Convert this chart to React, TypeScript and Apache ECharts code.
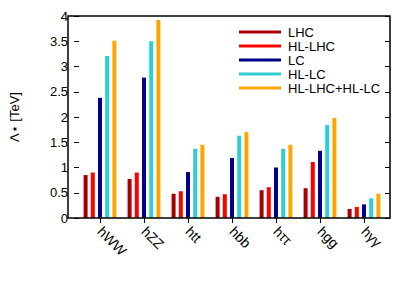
import React, { useEffect, useRef } from "react";
import * as echarts from "echarts";

const categories = ["hWW", "hZZ", "htt", "hbb", "hττ", "hgg", "hγγ"];
const seriesNames = ["LHC", "HL-LHC", "LC", "HL-LC", "HL-LHC+HL-LC"];
const lhc = [0.85, 0.77, 0.48, 0.42, 0.55, 0.59, 0.18];
const hlLhc = [0.9, 0.9, 0.53, 0.47, 0.61, 1.11, 0.22];
const lc = [2.38, 2.78, 0.91, 1.19, 1.0, 1.33, 0.27];
const hlLc = [3.21, 3.5, 1.37, 1.63, 1.37, 1.84, 0.39];
const combined = [3.51, 3.92, 1.45, 1.7, 1.45, 1.98, 0.48];
const yTicks = [0, 4, 0.5];
const colors = ["#a80000", "#ff0000", "#00008b", "#2ecfd2", "#ffa500"];

const FONT = "Liberation Sans";

export default function App() {
  const ref = useRef<HTMLDivElement>(null);
  useEffect(() => {
    if (!ref.current) return;
    const chart = echarts.init(ref.current, undefined, { renderer: "svg" });
    const values = [lhc, hlLhc, lc, hlLc, combined];
    const tickStyle = { show: true, inside: true, length: 5, lineStyle: { color: "#000", width: 1 } };
    chart.setOption({
      animation: false,
      backgroundColor: "#fff",
      textStyle: { fontFamily: FONT },
      grid: { left: 72, right: 29, top: 16, bottom: 73 },
      legend: {
        orient: "vertical",
        left: 234,
        top: 20,
        icon: "rect",
        itemWidth: 42,
        itemHeight: 3,
        itemGap: 0,
        textStyle: { fontFamily: FONT, fontSize: 13, color: "#000", lineHeight: 14, padding: [0, 0, 0, 2] },
        data: seriesNames,
      },
      xAxis: [
        {
          type: "category",
          data: categories,
          position: "bottom",
          axisLine: { show: false },
          axisTick: { ...tickStyle, alignWithLabel: true },
          axisLabel: { rotate: -45, fontSize: 14, color: "#000", margin: 11, fontFamily: FONT, interval: 0 },
        },
        {
          type: "category",
          data: categories,
          position: "top",
          axisLine: { show: false },
          axisTick: { ...tickStyle, alignWithLabel: true },
          axisLabel: { show: false },
        },
      ],
      yAxis: [
        {
          type: "value",
          min: yTicks[0],
          max: yTicks[1],
          interval: yTicks[2],
          offset: 4,
          position: "left",
          name: "Λ⋆ [TeV]",
          nameLocation: "middle",
          nameGap: 53,
          nameTextStyle: { fontSize: 13, color: "#000", fontFamily: FONT },
          axisLine: { show: false },
          axisTick: tickStyle,
          splitLine: { show: false },
          axisLabel: { fontSize: 13, color: "#000", margin: 6, fontFamily: FONT },
        },
        {
          type: "value",
          min: yTicks[0],
          max: yTicks[1],
          interval: yTicks[2],
          offset: 4,
          position: "right",
          axisLine: { show: false },
          axisTick: tickStyle,
          splitLine: { show: false },
          axisLabel: { show: false },
        },
      ],
      graphic: [
        {
          type: "rect",
          z: 100,
          shape: { x: 68, y: 16, width: 322, height: 202 },
          style: { fill: "none", stroke: "#000", lineWidth: 1.5 },
        },
      ],
      series: seriesNames.map((name, i) => ({
        name,
        type: "bar",
        data: values[i],
        barWidth: 4,
        barGap: "80%",
        itemStyle: { color: colors[i] },
      })),
    });
    return () => chart.dispose();
  }, []);
  return <div ref={ref} style={{ width: 415, height: 291, position: "absolute", left: 0, top: 0 }} />;
}
